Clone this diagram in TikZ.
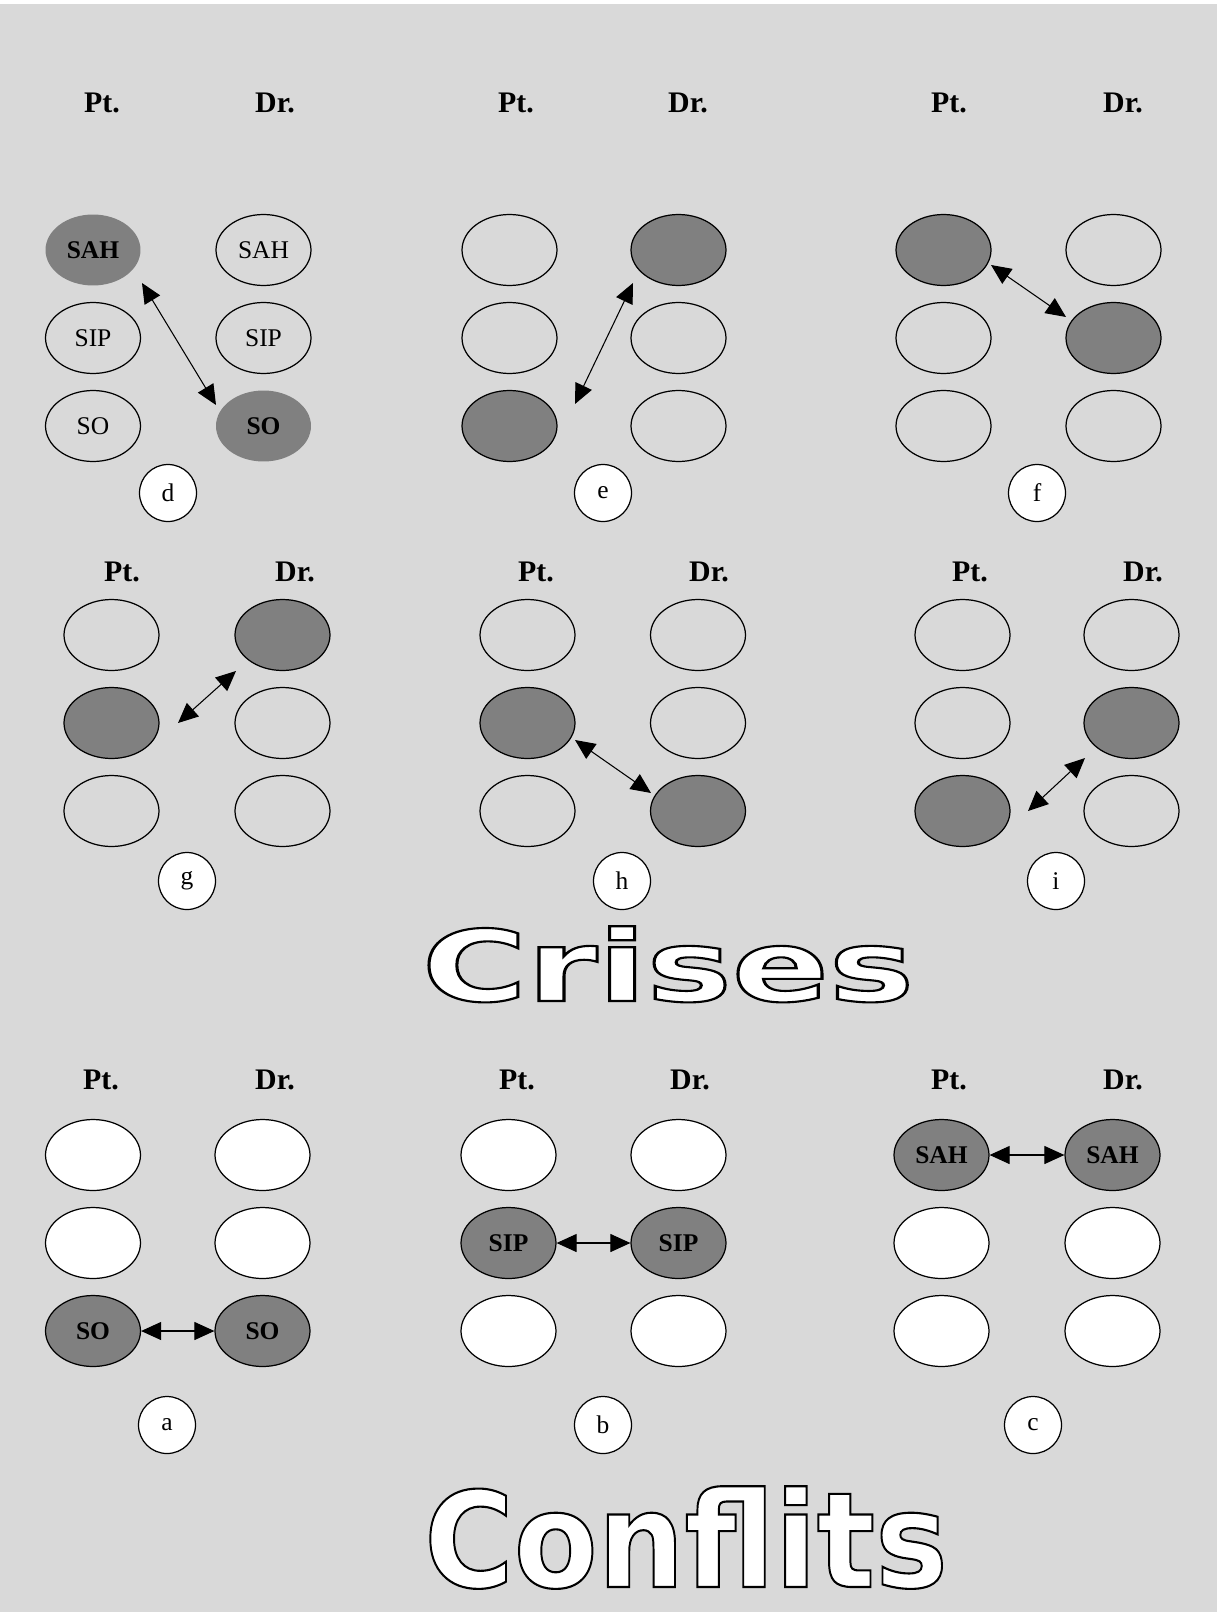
\documentclass[tikz,border=0pt]{standalone}
\usepackage{fontspec}
\setmainfont{Liberation Serif}
\newfontfamily\bannerfont{DejaVu Sans}
\usepackage{graphicx}
\usetikzlibrary{arrows.meta, shapes.geometric}
\definecolor{panelgray}{RGB}{217,217,217}
\definecolor{hotgray}{RGB}{128,128,128}
% white letters with a black rim (fill + stroke text mode)
\newcommand{\hollow}[1]{\special{pdf:literal direct 2 Tr 0 G 1.2 w}#1\special{pdf:literal direct 0 Tr}}
\tikzset{
    % empty state, outline only
    blob/.style={ellipse, draw, line width=0.7pt, minimum width=1.9cm,
        minimum height=1.42cm, inner sep=0pt, font=\fontsize{14.5}{16}\selectfont},
    % active state, filled grey
    hot/.style={blob, fill=hotgray, font=\fontsize{14.5}{16}\selectfont\bfseries},
    % active state with no rim (first panel only)
    hotflat/.style={hot, draw=none},
    % empty state on white (conflict panels)
    blank/.style={blob, fill=white},
    % panel letter in a circle
    tag/.style={circle, draw, fill=white, line width=0.7pt, minimum size=1.14cm,
        inner sep=0pt, font=\fontsize{14.5}{16}\selectfont},
    % column heads
    side/.style={font=\fontsize{17}{20}\selectfont\bfseries, inner sep=0pt},
    % two-way link
    link/.style={{Triangle[length=0.4cm, width=0.36cm]}-{Triangle[length=0.4cm, width=0.36cm]},
        line width=0.6pt},
    % big outlined words
    banner/.style={anchor=base, text=white, inner sep=0pt},
}

\begin{document}
\begin{tikzpicture}[x=0.02cm, y=-0.02cm]
    \useasboundingbox (0,0) rectangle (1217,1612);
    \fill[panelgray] (0,4) rectangle (1217,1612);

    % ---- panel d ----
    \node[side] (dLP) at (102,103) {Pt.};
    \node[side] (dLD) at (275,103) {Dr.};
    \foreach \r/\y/\s/\t/\w in {1/250/hotflat/blob/SAH, 2/338/blob/blob/SIP, 3/426/blob/hotflat/SO}{
        \node[\s] (dP\r) at (93,\y) {\w};
        \node[\t] (dD\r) at (263.5,\y) {\w};
    }
    \node[tag] (dT) at (168,493) {d};
    \draw[link] ([shift={(49,33)}]dP1.center) -- ([shift={(-47.5,-21)}]dD3.center);

    % ---- panel e ----
    \node[side] (eLP) at (516,103) {Pt.};
    \node[side] (eLD) at (688,103) {Dr.};
    \foreach \r/\y/\s/\t in {1/250/blob/hot, 2/338/blob/blob, 3/426/hot/blob}{
        \node[\s] (eP\r) at (509.5,\y) {};
        \node[\t] (eD\r) at (678.5,\y) {};
    }
    \node[tag] (eT) at (603,493) {e};
    \draw[link] ([shift={(65.5,-22)}]eP3.center) -- ([shift={(-45.5,33)}]eD1.center);

    % ---- panel f ----
    \node[side] (fLP) at (949,103) {Pt.};
    \node[side] (fLD) at (1123,103) {Dr.};
    \foreach \r/\y/\s/\t in {1/250/hot/blob, 2/338/blob/hot, 3/426/blob/blob}{
        \node[\s] (fP\r) at (943.5,\y) {};
        \node[\t] (fD\r) at (1113.5,\y) {};
    }
    \node[tag] (fT) at (1037,493) {f};
    \draw[link] ([shift={(47.5,15)}]fP1.center) -- ([shift={(-47.5,-21)}]fD2.center);

    % ---- panel g ----
    \node[side] (gLP) at (122,572) {Pt.};
    \node[side] (gLD) at (295,572) {Dr.};
    \foreach \r/\y/\s/\t in {1/635/blob/hot, 2/723/hot/blob, 3/811/blob/blob}{
        \node[\s] (gP\r) at (111.5,\y) {};
        \node[\t] (gD\r) at (282.5,\y) {};
    }
    \node[tag] (gT) at (187,881) {g};
    \draw[link] ([shift={(66.5,0)}]gP2.center) -- ([shift={(-46.5,36)}]gD1.center);

    % ---- panel h ----
    \node[side] (hLP) at (536,572) {Pt.};
    \node[side] (hLD) at (709,572) {Dr.};
    \foreach \r/\y/\s/\t in {1/635/blob/blob, 2/723/hot/blob, 3/811/blob/hot}{
        \node[\s] (hP\r) at (527.5,\y) {};
        \node[\t] (hD\r) at (698,\y) {};
    }
    \node[tag] (hT) at (622,881) {h};
    \draw[link] ([shift={(47.5,17)}]hP2.center) -- ([shift={(-47,-18)}]hD3.center);

    % ---- panel i ----
    \node[side] (iLP) at (970,572) {Pt.};
    \node[side] (iLD) at (1143,572) {Dr.};
    \foreach \r/\y/\s/\t in {1/635/blob/blob, 2/723/blob/hot, 3/811/hot/blob}{
        \node[\s] (iP\r) at (962.5,\y) {};
        \node[\t] (iD\r) at (1131.5,\y) {};
    }
    \node[tag] (iT) at (1056,881) {i};
    \draw[link] ([shift={(65.5,0)}]iP3.center) -- ([shift={(-46.5,35)}]iD2.center);

    \node[banner] (crises) at (668,1001)
        {\scalebox{1.455}[1]{\fontsize{56}{60}\bannerfont\bfseries\hollow{Crises}}};

    % ---- panel a ----
    \node[side] (aLP) at (101,1080) {Pt.};
    \node[side] (aLD) at (275,1080) {Dr.};
    \foreach \r/\y in {1/1155, 2/1243}{
        \node[blank] (aP\r) at (93,\y) {};
        \node[blank] (aD\r) at (262.5,\y) {};
    }
    \node[hot] (aP3) at (93,1331) {SO};
    \node[hot] (aD3) at (262.5,1331) {SO};
    \node[tag] (aT) at (167,1425) {a};
    \draw[link] (aP3.east) -- (aD3.west);

    % ---- panel b ----
    \node[side] (bLP) at (517,1080) {Pt.};
    \node[side] (bLD) at (690,1080) {Dr.};
    \foreach \r/\y in {1/1155, 3/1331}{
        \node[blank] (bP\r) at (508.5,\y) {};
        \node[blank] (bD\r) at (678.5,\y) {};
    }
    \node[hot] (bP2) at (508.5,1243) {SIP};
    \node[hot] (bD2) at (678.5,1243) {SIP};
    \node[tag] (bT) at (603,1425) {b};
    \draw[link] (bP2.east) -- (bD2.west);

    % ---- panel c ----
    \node[side] (cLP) at (949,1080) {Pt.};
    \node[side] (cLD) at (1123,1080) {Dr.};
    \foreach \r/\y in {2/1243, 3/1331}{
        \node[blank] (cP\r) at (941.5,\y) {};
        \node[blank] (cD\r) at (1112.5,\y) {};
    }
    \node[hot] (cP1) at (941.5,1155) {SAH};
    \node[hot] (cD1) at (1112.5,1155) {SAH};
    \node[tag] (cT) at (1033,1425) {c};
    \draw[link] (cP1.east) -- (cD1.west);

    \node[banner] (conflits) at (686,1587)
        {\scalebox{0.92}[1]{\fontsize{75.5}{80}\bannerfont\bfseries\hollow{Conflits}}};

\end{tikzpicture}
\end{document}
